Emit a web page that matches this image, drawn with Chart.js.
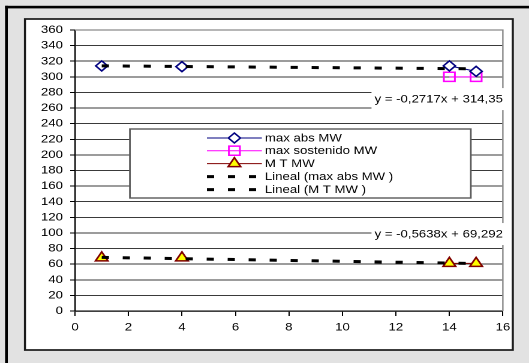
<!DOCTYPE html>
<html>
<head>
<meta charset="utf-8">
<script src="https://cdn.jsdelivr.net/npm/chart.js@4.4.1/dist/chart.umd.min.js"></script>
<style>
  html, body { margin: 0; padding: 0; background: #e2e2e2; overflow: hidden; }
  #wrap { position: absolute; left: 0; top: 0; width: 441px; height: 363px; transform: scaleX(1.19955); transform-origin: 0 0; }
  canvas { display: block; }
</style>
</head>
<body>
<div id="wrap"><canvas id="c" width="441" height="363"></canvas></div>
<script>
// Measurements per day (gaps = no reading that day)
const days           = [1, 2, 3, 4, 5, 6, 7, 8, 9, 10, 11, 12, 13, 14, 15];
const maxAbsMW       = [314, null, null, 313, null, null, null, null, null, null, null, null, null, 314, 307];
const maxSostenidoMW = [null, null, null, null, null, null, null, null, null, null, null, null, null, 300, 300];
const mtMW           = [68, null, null, 68, null, null, null, null, null, null, null, null, null, 61, 61];

// Linear trend coefficients (max abs MW, M T MW)
const trendSlopes     = [-0.2717, -0.5638];
const trendIntercepts = [314.35, 69.292];

const FONT = "'Liberation Sans', Arial, sans-serif";

function toPoints(ys) {
  return days.map((d, i) => ({ x: d, y: ys[i] }));
}
function trendPoints(k, ys) {
  const xs = days.filter((d, i) => ys[i] !== null);
  const x0 = xs[0], x1 = xs[xs.length - 1];
  return [x0, x1].map(x => ({ x: x, y: trendSlopes[k] * x + trendIntercepts[k] }));
}
function fmt(v) { return String(v).replace('.', ','); }
function trendLabel(k) {
  return 'y = ' + fmt(trendSlopes[k]) + 'x + ' + fmt(trendIntercepts[k]);
}

const datasets = [
  { label: 'max abs MW', data: toPoints(maxAbsMW), showLine: true, spanGaps: false,
    borderColor: '#000080', borderWidth: 1, pointStyle: 'rectRot', pointRadius: 5,
    pointBackgroundColor: '#ffffff', pointBorderColor: '#000080', pointBorderWidth: 1.5, order: 2 },
  { label: 'max sostenido MW', data: toPoints(maxSostenidoMW), showLine: true, spanGaps: false,
    borderColor: '#ff00ff', borderWidth: 1, pointStyle: 'rect', pointRadius: 6.5,
    pointBackgroundColor: 'rgba(255,255,255,0)', pointBorderColor: '#ff00ff', pointBorderWidth: 1.5, order: 2 },
  { label: 'M T MW', data: toPoints(mtMW), showLine: true, spanGaps: false,
    borderColor: '#800000', borderWidth: 1, pointStyle: 'triangle', pointRadius: 6,
    pointBackgroundColor: '#ffff00', pointBorderColor: '#800000', pointBorderWidth: 1.5, order: 2 },
  { label: 'Lineal (max abs MW )', data: trendPoints(0, maxAbsMW), showLine: true,
    borderColor: '#000000', borderWidth: 3, borderDash: [6, 11.5], borderCapStyle: 'butt',
    pointRadius: 0, order: 1 },
  { label: 'Lineal (M T MW )', data: trendPoints(1, mtMW), showLine: true,
    borderColor: '#000000', borderWidth: 3, borderDash: [6, 11.5], borderCapStyle: 'butt',
    pointRadius: 0, order: 1 }
];

// Frame: grey page, black outer rule on top and left, white chart box
const framePlugin = {
  id: 'frame',
  beforeDraw(chart) {
    const ctx = chart.ctx;
    ctx.save();
    ctx.fillStyle = '#e2e2e2';
    ctx.fillRect(0, 0, chart.width, chart.height);
    ctx.fillStyle = '#000000';
    ctx.fillRect(4.2, 5.8, chart.width - 4.2, 2.6);
    ctx.fillRect(4.2, 5.8, 2.3, chart.height - 5.8);
    ctx.fillStyle = '#ffffff';
    ctx.fillRect(20.8, 19, 406.7, 331);
    ctx.strokeStyle = '#1a1a1a';
    ctx.lineWidth = 1.7;
    ctx.strokeRect(20.8, 19, 406.7, 331);
    ctx.restore();
  },
  beforeDatasetsDraw(chart) {
    const a = chart.chartArea, ctx = chart.ctx;
    ctx.save();
    ctx.strokeStyle = '#8a8a8a';
    ctx.lineWidth = 1.2;
    ctx.beginPath();
    ctx.moveTo(a.left, a.top);
    ctx.lineTo(a.right, a.top);
    ctx.lineTo(a.right, a.bottom);
    ctx.stroke();
    ctx.restore();
  }
};

// Trend equations and boxed legend drawn over the plot
const overlayPlugin = {
  id: 'overlay',
  afterDraw(chart) {
    const ctx = chart.ctx;
    const xs = chart.scales.x, ys = chart.scales.y;
    ctx.save();

    // equation labels, anchored in data units
    const anchors = [{ x: 11.2, y: 271.5 }, { x: 11.2, y: 98.6 }];
    ctx.font = '11px ' + FONT;
    ctx.textBaseline = 'middle';
    anchors.forEach((p, k) => {
      const px = xs.getPixelForValue(p.x), py = ys.getPixelForValue(p.y);
      const txt = trendLabel(k);
      const w = ctx.measureText(txt).width;
      ctx.fillStyle = '#ffffff';
      ctx.fillRect(px - 2.5, py - 11, w + 5, 22);
      ctx.fillStyle = '#000000';
      ctx.fillText(txt, px, py + 0.5);
    });

    // legend box
    const L = 108.3, T = 129, R = 392.5, B = 198;
    ctx.fillStyle = '#ffffff';
    ctx.fillRect(L, T, R - L, B - T);
    ctx.strokeStyle = '#5a5a5a';
    ctx.lineWidth = 1.4;
    ctx.strokeRect(L, T, R - L, B - T);

    const rowY = [138, 150.7, 163.6, 176.6, 189.6];
    const sx0 = 172.5, sx1 = 218.3, tx = 220.8;
    datasets.forEach((ds, i) => {
      const y = rowY[i];
      ctx.save();
      ctx.strokeStyle = ds.borderColor;
      ctx.lineWidth = ds.borderWidth;
      ctx.lineCap = 'butt';
      ctx.setLineDash(ds.borderDash || []);
      ctx.beginPath();
      ctx.moveTo(sx0, y);
      ctx.lineTo(sx1, y);
      ctx.stroke();
      ctx.setLineDash([]);
      if (ds.pointRadius > 0) {
        ctx.fillStyle = ds.pointBackgroundColor;
        ctx.strokeStyle = ds.pointBorderColor;
        ctx.lineWidth = ds.pointBorderWidth;
        Chart.helpers.drawPoint(ctx, {
          pointStyle: ds.pointStyle, radius: ds.pointRadius, rotation: 0,
          borderWidth: ds.pointBorderWidth
        }, (sx0 + sx1) / 2, y);
      }
      ctx.restore();
      ctx.fillStyle = '#000000';
      ctx.font = '11px ' + FONT;
      ctx.textBaseline = 'middle';
      ctx.fillText(ds.label, tx, y + 0.5);
    });
    ctx.restore();
  }
};

new Chart(document.getElementById('c'), {
  type: 'scatter',
  data: { datasets: datasets },
  options: {
    responsive: false,
    animation: false,
    devicePixelRatio: 2,
    layout: { padding: { top: 30, right: 21.8, left: 0, bottom: 0 } },
    plugins: { legend: { display: false }, tooltip: { enabled: false } },
    scales: {
      x: {
        type: 'linear', min: 0, max: 16,
        ticks: { stepSize: 2, autoSkip: false, color: '#000', padding: 5, maxRotation: 0,
                 font: { family: FONT, size: 11 } },
        grid: { drawOnChartArea: false, tickLength: 5, color: '#000' },
        border: { color: '#000', width: 1.2 },
        afterFit(s) { s.height = 52; }
      },
      y: {
        type: 'linear', min: 0, max: 360,
        ticks: { stepSize: 20, autoSkip: false, color: '#000', padding: 6,
                 font: { family: FONT, size: 11 } },
        grid: { color: '#3a3a3a', lineWidth: 1, tickLength: 4, tickColor: '#000' },
        border: { color: '#000', width: 1.2 },
        afterFit(s) { s.width = 62.5; }
      }
    }
  },
  plugins: [framePlugin, overlayPlugin]
});
</script>
</body>
</html>
